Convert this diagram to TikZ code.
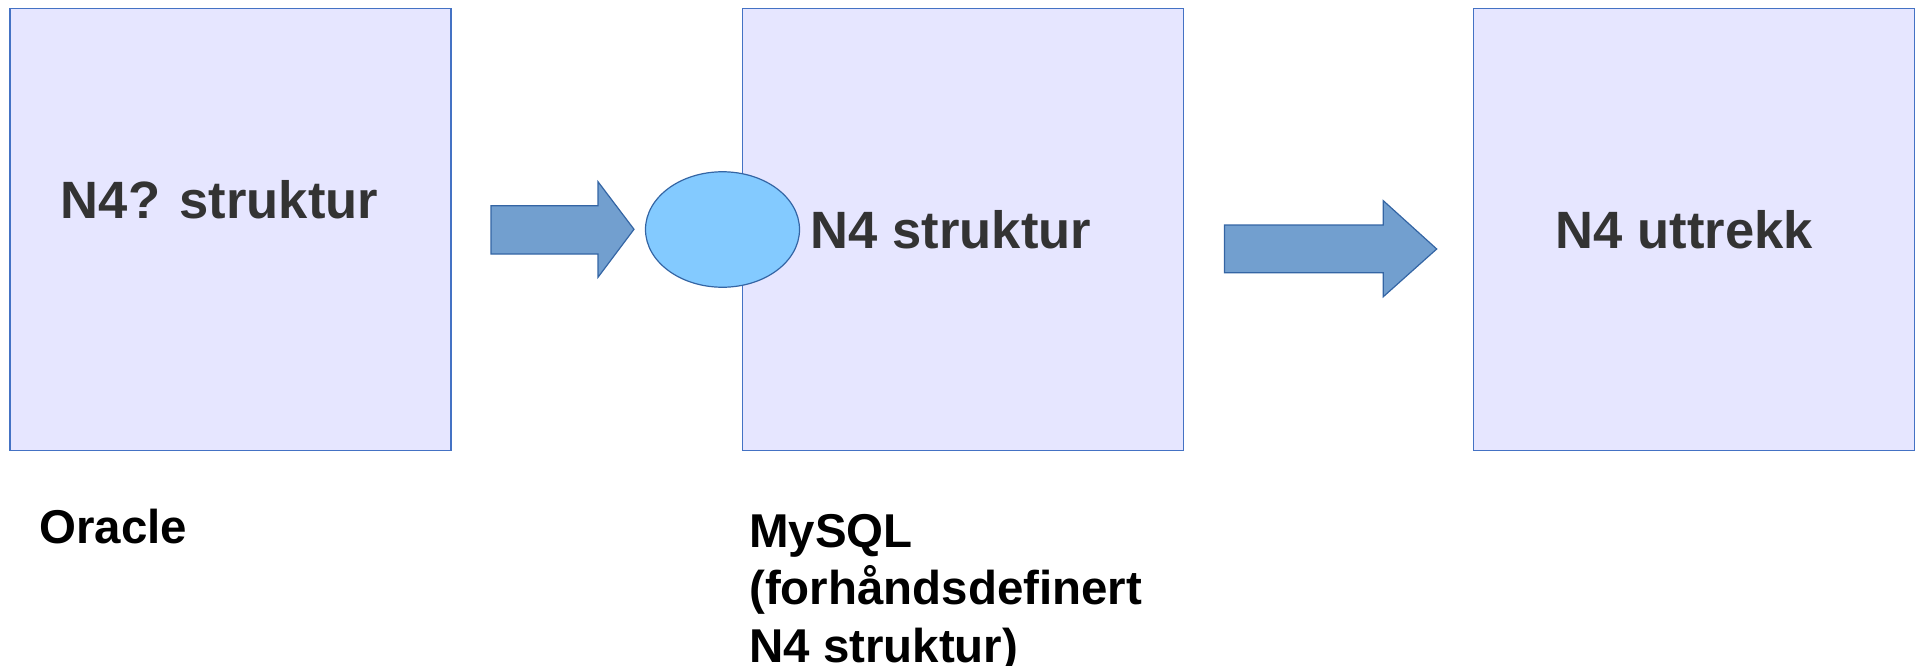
\documentclass[tikz,border=0pt]{standalone}
\usepackage{fontspec}
\setmainfont{Liberation Sans}
\usetikzlibrary{shapes.geometric}
\definecolor{boxfill}{HTML}{E6E6FF}
\definecolor{boxline}{HTML}{4472C4}
\definecolor{arrfill}{HTML}{729FCF}
\definecolor{arrline}{HTML}{3465A4}
\definecolor{ellfill}{HTML}{83CAFF}
\definecolor{txtgray}{HTML}{333333}
\begin{document}
\begin{tikzpicture}[x=0.75pt,y=-0.75pt,
  stagebox/.style={draw=boxline,fill=boxfill,line width=1pt,minimum width=330.75pt,minimum height=331.5pt,inner sep=0pt},
  blockarrow/.style={draw=arrline,fill=arrfill,line width=0.9pt,line join=miter},
  boxtext/.style={inner sep=0pt,anchor=base,text=txtgray,font=\bfseries\fontsize{39.4pt}{45pt}\selectfont},
  labeltext/.style={inner sep=0pt,anchor=base west,text=black,align=left,font=\bfseries\fontsize{35.6pt}{43.2pt}\selectfont}]
\useasboundingbox (0,0) rectangle (1925,665);
% boxes
\node[stagebox] (box1) at (230.5,229.5) {};
\node[stagebox] (box2) at (962.75,229.5) {};
\node[stagebox] (box3) at (1694.25,229.5) {};
% box texts
\node[boxtext] (t1) at (219.5,218.3) {N4? struktur};
% arrow 1
\path[blockarrow] (491,205.7) -- (598,205.7) -- (598,181.7) -- (634,229.3) -- (598,277.3) -- (598,254) -- (491,254) -- cycle;
% ellipse
\node[draw=arrline,fill=ellfill,line width=0.9pt,ellipse,minimum width=115.5pt,minimum height=86.6pt,inner sep=0pt] (db) at (722.5,229.5) {};
\node[boxtext] (t2) at (951,248.3) {N4 struktur};
% arrow 2
\path[blockarrow] (1224.5,225) -- (1383.3,225) -- (1383.3,200.7) -- (1436.7,249) -- (1383.3,296.7) -- (1383.3,272.7) -- (1224.5,272.7) -- cycle;
\node[boxtext] (t3) at (1684.3,248.3) {N4 uttrekk};
% labels
\node[labeltext] (oracle) at (39,543.3) {Oracle};
\node[labeltext] (mysql) at (749,662.5) {MySQL\\(forhåndsdefinert\\N4 struktur)};
\end{tikzpicture}
\end{document}
